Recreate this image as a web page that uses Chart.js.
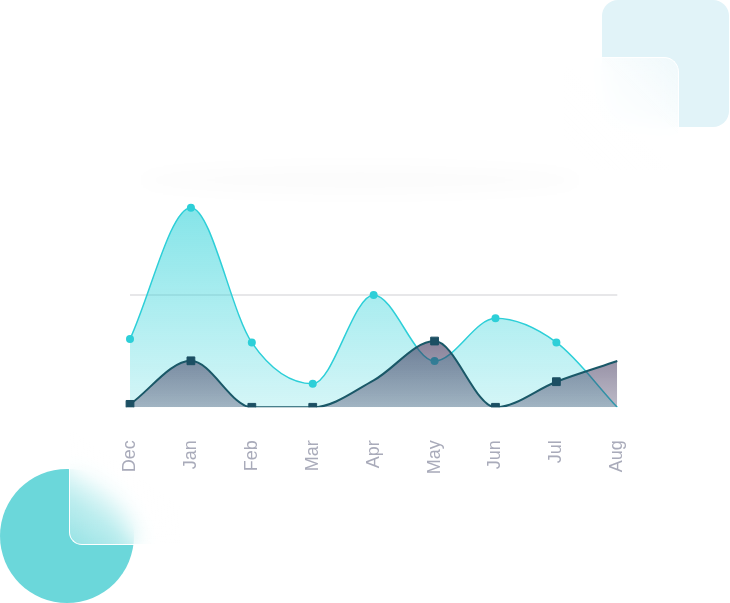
<!DOCTYPE html>
<html>
<head>
<meta charset="utf-8">
<script src="https://cdn.jsdelivr.net/npm/chart.js@4.4.1/dist/chart.umd.min.js"></script>
<style>
  html, body { margin: 0; padding: 0; background: #fff; }
  #wrap { position: relative; width: 730px; height: 603px; overflow: hidden; background: #fff; }
  .deco { position: absolute; }
  #squareBack { left: 602px; top: 0; width: 127px; height: 127px; border-radius: 16px; background: #e1f3f8; }
  #glassTop { left: 564px; top: 57px; width: 114px; height: 112px; border-radius: 15px;
    border-top: 1.5px solid #fff; border-right: 1.5px solid #fff;
    backdrop-filter: blur(10px);
    background: linear-gradient(225deg, rgba(255,255,255,0.5) 0%, rgba(255,255,255,0.8) 30%, rgba(255,255,255,0.93) 60%, #fff 85%); }
  #circle { left: 0; top: 469px; width: 134px; height: 134px; border-radius: 50%; background: #6bd7da; }
  #glassBottom { left: 69px; top: 422px; width: 110px; height: 122px; border-radius: 0 0 0 13px;
    border-left: 1.5px solid #fff; border-bottom: 1.5px solid #fff;
    backdrop-filter: blur(12px);
    background: linear-gradient(35deg, rgba(255,255,255,0.3) 0%, rgba(255,255,255,0.55) 22%, rgba(255,255,255,0.88) 42%, #fff 58%); }
  #haze { left: 140px; top: 165px; width: 440px; height: 30px; border-radius: 50%;
    background: rgba(0,0,0,0.01); filter: blur(8px); }
  canvas { position: absolute; left: 0; top: 0; }
</style>
</head>
<body>
<div id="wrap">
  <div class="deco" id="squareBack"></div>
  <div class="deco" id="glassTop"></div>
  <div class="deco" id="haze"></div>
  <div class="deco" id="circle"></div>
  <div class="deco" id="glassBottom"></div>
  <canvas id="chart" width="730" height="603"></canvas>
</div>
<script>
const months = ['Dec', 'Jan', 'Feb', 'Mar', 'Apr', 'May', 'Jun', 'Jul', 'Aug'];
const lightSeries = [3.04, 8.89, 2.88, 1.05, 5.0, 2.06, 3.96, 2.89, 0];
const darkSeries = [0.13, 2.07, 0, 0, 1.2, 2.95, 0, 1.14, 2.06];
const lightRadius = [4, 4, 4, 4, 4, 4, 4, 4, 0];
const darkRadius = [5.5, 5.5, 5.5, 5.5, 0, 5.5, 5.5, 5.5, 0];

function verticalFill(topValue, topColor, bottomColor) {
  return (context) => {
    const chart = context.chart;
    const yScale = chart.scales.y;
    if (!chart.chartArea || !yScale) return bottomColor;
    const g = chart.ctx.createLinearGradient(0, yScale.getPixelForValue(topValue), 0, yScale.getPixelForValue(0));
    g.addColorStop(0, topColor);
    g.addColorStop(1, bottomColor);
    return g;
  };
}

const ctx = document.getElementById('chart').getContext('2d');
new Chart(ctx, {
  type: 'line',
  data: {
    labels: months,
    datasets: [
      {
        // drawn on top
        data: darkSeries,
        borderColor: '#1a5868',
        borderWidth: 2,
        backgroundColor: verticalFill(3, 'rgba(55,45,85,0.6)', 'rgba(55,45,85,0.33)'),
        fill: 'origin',
        cubicInterpolationMode: 'monotone',
        pointStyle: 'rect',
        pointRadius: darkRadius,
        pointBackgroundColor: '#1c4f63',
        pointBorderColor: '#1c4f63',
        pointBorderWidth: 1
      },
      {
        data: lightSeries,
        borderColor: '#2dcfd8',
        borderWidth: 1.5,
        backgroundColor: verticalFill(9, 'rgba(43,209,216,0.58)', 'rgba(43,209,216,0.2)'),
        fill: 'origin',
        cubicInterpolationMode: 'monotone',
        pointRadius: lightRadius,
        pointBackgroundColor: '#2dcfd8',
        pointBorderWidth: 0
      }
    ]
  },
  options: {
    responsive: false,
    animation: false,
    layout: {
      padding: { left: 130, right: 112.7, top: 182.7, bottom: 115.7 }
    },
    plugins: {
      legend: { display: false },
      tooltip: { enabled: false }
    },
    scales: {
      x: {
        grid: { display: false, drawTicks: false },
        border: { display: false },
        ticks: {
          minRotation: 90,
          maxRotation: 90,
          padding: 33,
          color: '#a9abba',
          font: { family: 'Liberation Sans', size: 18 }
        },
        afterFit(scale) { scale.height = 80; }
      },
      y: {
        min: 0,
        max: 10,
        ticks: { display: false, stepSize: 5 },
        border: { display: false },
        grid: {
          drawTicks: false,
          lineWidth: 2,
          color: (c) => (c.tick && c.tick.value === 5 ? '#e7e7e9' : 'rgba(0,0,0,0)')
        },
        afterFit(scale) { scale.width = 0; }
      }
    }
  }
});
</script>
</body>
</html>
